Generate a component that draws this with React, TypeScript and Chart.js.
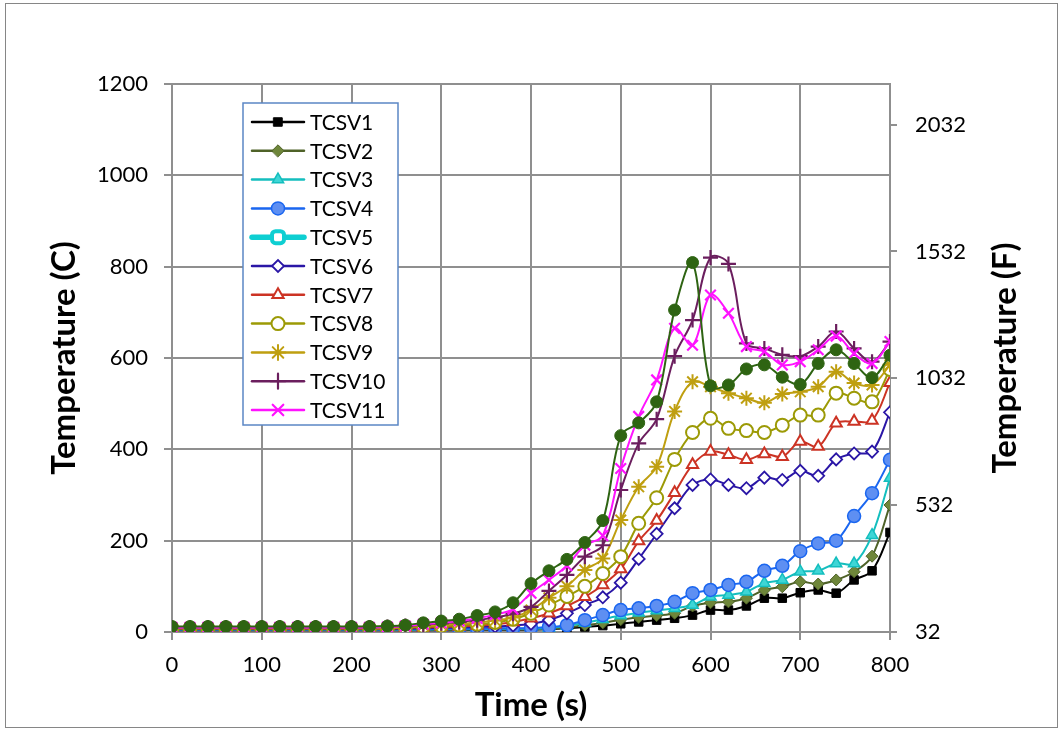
import React, { useEffect, useRef } from 'react';
import { Chart, registerables } from 'chart.js';
import { drawPoint } from 'chart.js/helpers';

Chart.register(...registerables);

const TIMES = [0, 20, 40, 60, 80, 100, 120, 140, 160, 180, 200, 220, 240, 260, 280, 300, 320, 340, 360, 380, 400, 420, 440, 460, 480, 500, 520, 540, 560, 580, 600, 620, 640, 660, 680, 700, 720, 740, 760, 780, 800];

const TCSV1 = [4, 4, 4, 4, 4, 4, 4, 4, 4, 4, 4, 4, 4, 4, 4, 4, 4, 5, 5, 5, 5, 6, 8, 11, 14, 18, 22, 26, 30, 37, 48, 48, 57, 74, 74, 86, 92, 85, 114, 134, 218];
const TCSV2 = [5, 5, 5, 5, 5, 5, 5, 5, 5, 5, 5, 5, 5, 5, 5, 5, 5, 6, 6, 6, 6, 7, 10, 15, 20, 27, 32, 36, 41, 57, 64, 66, 74, 92, 99, 110, 105, 114, 132, 166, 278];
const TCSV3 = [5, 5, 5, 5, 5, 5, 5, 5, 5, 5, 5, 5, 5, 5, 5, 6, 6, 6, 7, 7, 7, 9, 13, 20, 28, 36, 42, 47, 52, 59, 77, 81, 88, 107, 114, 132, 134, 150, 150, 212, 337];
const TCSV4 = [6, 6, 6, 6, 6, 6, 6, 6, 6, 6, 6, 6, 6, 6, 6, 7, 7, 7, 8, 8, 9, 11, 15, 26, 37, 48, 52, 57, 66, 85, 92, 103, 110, 134, 145, 177, 194, 200, 254, 304, 377];
const TCSV5: (number | null)[] = [];
const TCSV6 = [6, 6, 6, 6, 6, 6, 6, 6, 6, 6, 6, 6, 6, 7, 8, 9, 10, 11, 12, 14, 18, 26, 41, 59, 76, 108, 160, 215, 271, 322, 334, 322, 315, 338, 333, 353, 342, 378, 391, 395, 481];
const TCSV7 = [7, 7, 7, 7, 7, 7, 7, 7, 7, 7, 7, 7, 7, 9, 10, 11, 12, 14, 17, 22, 30, 41, 57, 77, 103, 138, 199, 244, 305, 366, 395, 388, 377, 390, 384, 417, 406, 457, 461, 463, 546];
const TCSV8 = [8, 8, 8, 8, 8, 8, 8, 8, 8, 8, 8, 8, 8, 10, 12, 13, 15, 17, 21, 28, 41, 59, 78, 100, 128, 165, 238, 294, 378, 437, 468, 446, 441, 437, 453, 475, 475, 523, 512, 504, 575];
const TCSV9 = [9, 9, 9, 9, 9, 9, 9, 9, 9, 9, 9, 9, 9, 12, 14, 16, 18, 21, 25, 32, 48, 75, 100, 136, 161, 245, 318, 362, 483, 548, 537, 523, 512, 502, 521, 526, 537, 570, 545, 541, 585];
const TCSV10 = [10, 10, 10, 10, 10, 10, 10, 10, 10, 10, 10, 10, 11, 13, 16, 19, 22, 26, 32, 40, 55, 90, 125, 165, 190, 311, 413, 466, 604, 683, 820, 806, 632, 621, 607, 604, 625, 658, 621, 592, 636];
const TCSV11 = [10, 10, 10, 10, 10, 10, 10, 10, 10, 10, 10, 10, 11, 13, 17, 20, 24, 30, 38, 50, 85, 114, 145, 190, 211, 358, 472, 552, 665, 628, 738, 698, 625, 614, 585, 592, 618, 648, 610, 588, 636];
// unlabelled series (not listed in the legend)
const TCSV12 = [12, 12, 12, 12, 12, 12, 12, 12, 12, 12, 12, 12, 13, 15, 20, 24, 28, 36, 44, 64, 106, 134, 159, 196, 244, 430, 458, 504, 705, 809, 539, 541, 576, 585, 558, 542, 588, 618, 588, 557, 606];

const X_TICKS = [0, 100, 200, 300, 400, 500, 600, 700, 800];
const C_TICKS = [0, 200, 400, 600, 800, 1000, 1200];
const F_TICKS = [32, 532, 1032, 1532, 2032];

const LEGEND_LABELS = ['TCSV1', 'TCSV2', 'TCSV3', 'TCSV4', 'TCSV5', 'TCSV6', 'TCSV7', 'TCSV8', 'TCSV9', 'TCSV10', 'TCSV11'];

const FONT = 'Lato, "Open Sans", "DejaVu Sans", sans-serif';
const GRID = '#8f8f8f';

type Style = { color: string; fill: string; pointStyle: string; radius: number; lineWidth: number; pointBorder: number; legend: boolean };

const STYLES: Style[] = [
  { color: '#000000', fill: '#000000', pointStyle: 'rect', radius: 6, lineWidth: 2, pointBorder: 1, legend: true },
  { color: '#4F6228', fill: '#6E863A', pointStyle: 'rectRot', radius: 6, lineWidth: 2, pointBorder: 1, legend: true },
  { color: '#14BEBE', fill: '#3ED6D6', pointStyle: 'triangle', radius: 6.5, lineWidth: 2, pointBorder: 1.5, legend: true },
  { color: '#1A66F0', fill: '#5E8FF2', pointStyle: 'circle', radius: 6.5, lineWidth: 2, pointBorder: 1.5, legend: true },
  { color: '#0ECFD2', fill: '#ffffff', pointStyle: 'rectRounded', radius: 7, lineWidth: 5, pointBorder: 4, legend: true },
  { color: '#2A16A6', fill: '#ffffff', pointStyle: 'rectRot', radius: 6, lineWidth: 2, pointBorder: 1.8, legend: true },
  { color: '#CC3324', fill: '#ffffff', pointStyle: 'triangle', radius: 6.5, lineWidth: 2, pointBorder: 2, legend: true },
  { color: '#9C9A06', fill: '#ffffff', pointStyle: 'circle', radius: 6.5, lineWidth: 2, pointBorder: 2, legend: true },
  { color: '#BF9F10', fill: '#BF9F10', pointStyle: 'star', radius: 7.5, lineWidth: 2, pointBorder: 2, legend: true },
  { color: '#6B1E5E', fill: '#6B1E5E', pointStyle: 'cross', radius: 7.5, lineWidth: 2, pointBorder: 2.2, legend: true },
  { color: '#FF12FF', fill: '#FF12FF', pointStyle: 'crossRot', radius: 7.5, lineWidth: 2, pointBorder: 2.2, legend: true },
  { color: '#2E6412', fill: '#2E6412', pointStyle: 'circle', radius: 6, lineWidth: 2, pointBorder: 1, legend: false },
];

const SERIES = [TCSV1, TCSV2, TCSV3, TCSV4, TCSV5, TCSV6, TCSV7, TCSV8, TCSV9, TCSV10, TCSV11, TCSV12];
const NAMES = [...LEGEND_LABELS, 'TCSV12'];

const plain = (v: any) => String(v);

const boxLegend = {
  id: 'boxLegend',
  afterDraw(chart: any) {
    const ctx: CanvasRenderingContext2D = chart.ctx;
    ctx.save();
    const bx = 237, by = 99, bw = 155, bh = 322;
    ctx.fillStyle = '#ffffff';
    ctx.fillRect(bx, by, bw, bh);
    ctx.strokeStyle = '#5B87C5';
    ctx.lineWidth = 1.5;
    ctx.strokeRect(bx, by, bw, bh);
    ctx.font = '21px ' + FONT;
    ctx.textBaseline = 'middle';
    ctx.textAlign = 'left';
    let row = 0;
    chart.data.datasets.forEach((ds: any, i: number) => {
      const st = STYLES[i];
      if (!st.legend) return;
      const y = 118 + row * 28.8;
      ctx.strokeStyle = st.color;
      ctx.lineWidth = st.lineWidth + 0.5;
      ctx.lineCap = 'round';
      ctx.beginPath();
      ctx.moveTo(246, y);
      ctx.lineTo(298, y);
      ctx.stroke();
      ctx.fillStyle = st.fill;
      ctx.strokeStyle = st.color;
      ctx.lineWidth = st.pointBorder;
      drawPoint(ctx, { pointStyle: st.pointStyle as any, rotation: 0, radius: st.radius, borderWidth: st.pointBorder }, 272, y);
      ctx.fillStyle = '#000000';
      ctx.fillText(ds.label, 304, y + 1);
      row++;
    });
    ctx.translate(999, 354);
    ctx.rotate(-Math.PI / 2);
    ctx.font = 'bold 33px ' + FONT;
    ctx.textAlign = 'center';
    ctx.textBaseline = 'middle';
    ctx.fillStyle = '#000000';
    ctx.fillText('Temperature (F)', 0, 0);
    ctx.restore();
  },
};

export default function App() {
  const ref = useRef<HTMLCanvasElement | null>(null);
  useEffect(() => {
    if (!ref.current) return;
    const datasets = SERIES.map((vals, i) => {
      const st = STYLES[i];
      return {
        label: NAMES[i],
        data: vals.map((v, k) => ({ x: TIMES[k], y: v })),
        borderColor: st.color,
        backgroundColor: st.fill,
        borderWidth: st.lineWidth,
        pointStyle: st.pointStyle,
        pointRadius: st.radius,
        pointBorderWidth: st.pointBorder,
        pointBorderColor: st.color,
        pointBackgroundColor: st.fill,
        tension: 0.35,
        yAxisID: 'y',
        order: 11 - i,
      };
    });
    const chart = new Chart(ref.current, {
      type: 'line',
      data: { datasets: datasets as any },
      options: {
        animation: false,
        responsive: false,
        layout: { padding: { top: 80, left: 0, right: 0, bottom: 0 } },
        plugins: { legend: { display: false }, tooltip: { enabled: false } },
        scales: {
          x: {
            type: 'linear',
            min: 0,
            max: 800,
            afterBuildTicks: (axis: any) => { axis.ticks = X_TICKS.map((v) => ({ value: v })); },
            afterFit: (s: any) => { s.height = 95; },
            grid: { color: GRID, lineWidth: 2, tickLength: 8, drawTicks: true },
            border: { color: GRID, width: 2 },
            ticks: { color: '#000', font: { family: FONT, size: 22 }, padding: 12, maxRotation: 0, callback: plain },
            title: { display: true, text: 'Time (s)', color: '#000', font: { family: FONT, size: 33, weight: 'bold' }, padding: { top: 0, bottom: 2 } },
          },
          y: {
            type: 'linear',
            position: 'left',
            min: 0,
            max: 1200,
            afterBuildTicks: (axis: any) => { axis.ticks = C_TICKS.map((v) => ({ value: v })); },
            afterFit: (s: any) => { s.width = 166; },
            grid: { color: GRID, lineWidth: 2, tickLength: 8 },
            border: { color: GRID, width: 2 },
            ticks: { color: '#000', font: { family: FONT, size: 22 }, padding: 16, callback: plain },
            title: { display: true, text: 'Temperature (C)', color: '#000', font: { family: FONT, size: 33, weight: 'bold' }, padding: { top: 39, bottom: 0 } },
          },
          y2: {
            type: 'linear',
            position: 'right',
            min: 32,
            max: 2192,
            afterBuildTicks: (axis: any) => { axis.ticks = F_TICKS.map((v) => ({ value: v })); },
            afterFit: (s: any) => { s.width = 167; },
            grid: { drawOnChartArea: false, color: GRID, lineWidth: 2, tickLength: 7 },
            border: { color: GRID, width: 2 },
            ticks: { color: '#000', font: { family: FONT, size: 22 }, padding: 18, callback: plain },
          },
        },
      },
      plugins: [boxLegend],
    });
    return () => chart.destroy();
  }, []);
  return (
    <div style={{ position: 'absolute', left: 5, top: 3, width: 1051, height: 723, border: '1px solid #868686', background: '#fff' }}>
      <canvas ref={ref} width={1051} height={723} style={{ display: 'block', width: 1051, height: 723 }} />
    </div>
  );
}
